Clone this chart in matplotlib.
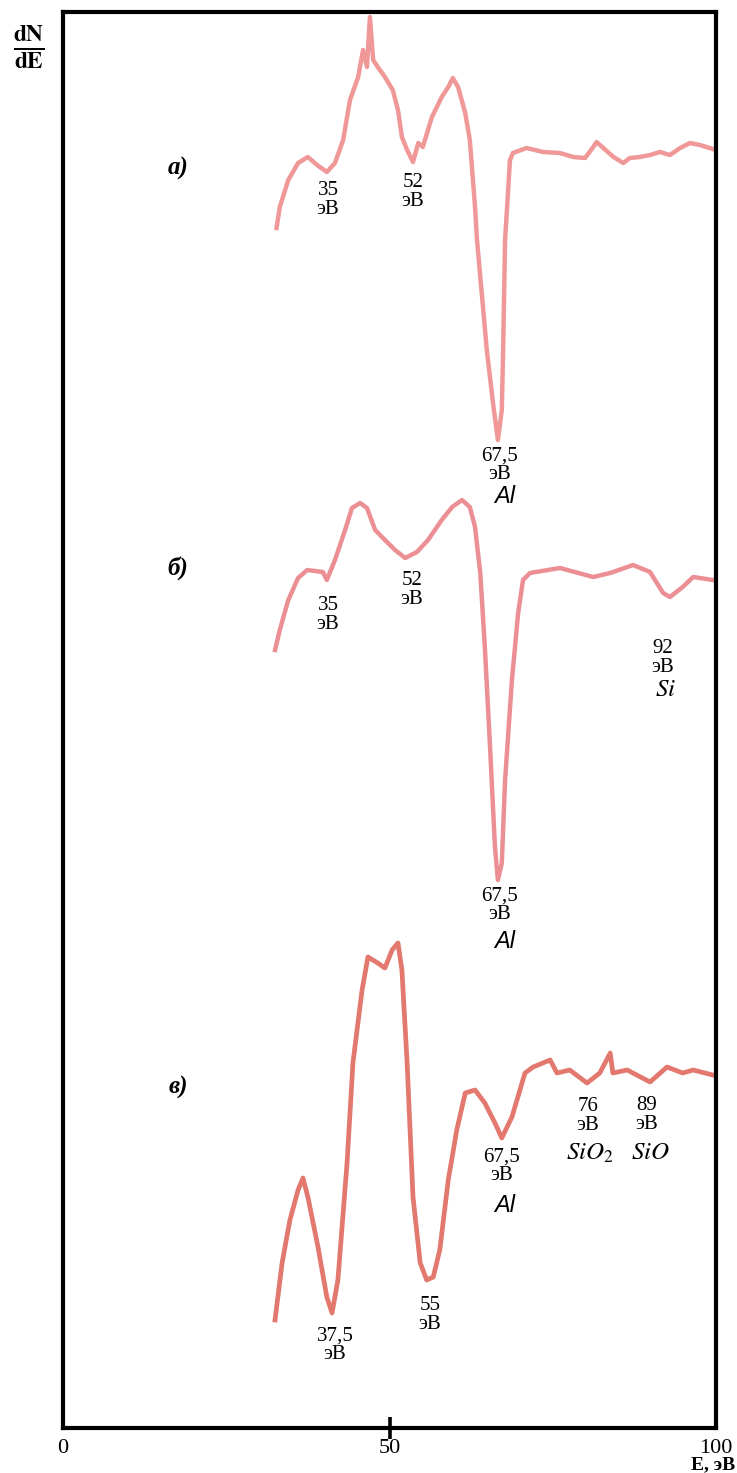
import matplotlib.pyplot as plt

plt.rcParams['font.family'] = ['Liberation Serif', 'DejaVu Serif']
plt.rcParams['mathtext.fontset'] = 'stix'

# energy, eV  /  dN/dE, arbitrary units
e_a = [32.7, 33.2, 34.5, 36.0, 37.5, 38.9, 40.4, 41.65, 42.9, 43.95, 45.2, 45.95,
       46.55, 47.0, 47.5, 48.2, 49.3, 50.5, 51.3, 51.9, 52.7, 53.6, 54.4, 55.1,
       56.5, 58.0, 59.0, 59.7, 60.5, 61.6, 62.3, 63.1, 63.4, 64.9, 65.85, 66.6,
       67.2, 67.4, 67.7, 68.45, 68.9, 71.0, 73.55, 76.1, 78.15, 79.95, 81.2, 81.7,
       82.75, 84.3, 85.8, 86.8, 88.35, 89.9, 91.4, 92.95, 94.5, 96.0, 97.55, 99.5]
s_a = [1200, 1221, 1248, 1265, 1271, 1263, 1256, 1265, 1288, 1328, 1351, 1378,
       1361, 1411, 1368, 1361, 1351, 1338, 1318, 1291, 1278, 1266, 1285, 1281,
       1311, 1331, 1341, 1350, 1341, 1315, 1288, 1221, 1188, 1078, 1025, 988,
       1018, 1078, 1188, 1268, 1275, 1280, 1276, 1275, 1271, 1270, 1281, 1286,
       1280, 1271, 1265, 1270, 1271, 1273, 1276, 1273, 1280, 1285, 1283, 1279]

e_b = [32.47, 33.2, 34.5, 36.0, 37.4, 39.8, 40.4, 41.65, 43.2, 44.25, 45.5, 46.55,
       47.8, 49.3, 50.85, 52.4, 54.2, 55.9, 58.0, 59.6, 61.1, 62.3, 63.1, 63.9,
       64.6, 65.4, 66.15, 66.6, 67.2, 67.7, 68.75, 69.7, 70.45, 71.5, 76.1, 81.2,
       83.8, 87.3, 89.9, 91.9, 92.95, 94.9, 96.5, 99.5]
s_b = [778, 798, 828, 850, 858, 856, 848, 868, 898, 920, 925, 920,
       898, 888, 878, 870, 876, 888, 908, 921, 928, 921, 901, 855,
       781, 681, 581, 548, 565, 648, 748, 815, 848, 855, 860, 851,
       855, 863, 856, 835, 831, 841, 851, 848]

e_c = [32.47, 33.55, 34.75, 36.0, 36.75, 37.5, 39.05, 40.4, 41.2, 42.1, 43.5, 44.4,
       45.8, 46.7, 48.2, 49.3, 50.4, 51.3, 51.9, 52.7, 53.6, 54.7, 55.7, 56.7,
       57.7, 59.0, 60.3, 61.6, 63.1, 64.6, 66.15, 67.2, 68.75, 70.75, 72.0, 74.6,
       75.65, 77.6, 80.25, 82.2, 83.8, 84.2, 86.4, 89.9, 92.5, 94.9, 96.5, 99.5]
s_c = [108, 165, 208, 238, 250, 231, 181, 131, 115, 148, 265, 365,
       438, 471, 465, 460, 478, 485, 458, 365, 231, 165, 148, 151,
       178, 248, 298, 335, 338, 325, 305, 290, 311, 355, 361, 368,
       355, 358, 345, 355, 375, 355, 358, 346, 361, 355, 358, 353]

x_ticks = [0, 50, 100]

# (x, y, text) for the peak labels
peak_labels = [
    (40.6, 1228, '35\nэВ'), (53.6, 1236, '52\nэВ'), (66.9, 963, '67,5\nэВ'),
    (40.6, 813, '35\nэВ'), (53.45, 838, '52\nэВ'), (66.9, 523, '67,5\nэВ'),
    (91.9, 770, '92\nэВ'),
    (67.2, 262, '67,5\nэВ'), (80.4, 312, '76\nэВ'), (89.4, 313, '89\nэВ'),
    (56.2, 113, '55\nэВ'), (41.65, 83, '37,5\nэВ'),
]
al_labels = [(67.7, 931), (67.7, 486), (67.7, 223)]
serif_italic = [(92.2, 738, r'$\mathit{Si}$'), (80.7, 275, r'$\mathit{SiO}_{2}$'),
                (89.9, 275, r'$\mathit{SiO}$')]
panels = [(17.6, 1260, 'а)'), (17.6, 860, 'б)'), (17.6, 341, 'в)')]

fig = plt.figure(figsize=(7.37, 14.73), dpi=100)
ax = fig.add_axes([63 / 737, 45 / 1473, 653 / 737, 1416 / 1473])

ax.plot(e_a, s_a, color='#f09898', lw=3.2, solid_joinstyle='round')
ax.plot(e_b, s_b, color='#ec8f95', lw=3.2, solid_joinstyle='round')
ax.plot(e_c, s_c, color='#e3786f', lw=3.4, solid_joinstyle='round')

for x, y, txt in peak_labels:
    ax.text(x, y, txt, ha='center', va='center', fontsize=15,
            linespacing=0.95, multialignment='center')
for x, y in al_labels:
    ax.text(x, y, 'Al', ha='center', va='center', fontsize=17,
            family='Liberation Sans', style='italic')
for x, y, txt in serif_italic:
    ax.text(x, y, txt, ha='center', va='center', fontsize=18)
for x, y, txt in panels:
    ax.text(x, y, txt, ha='center', va='center', fontsize=18,
            weight='bold', style='italic')

ax.set_xlim(0, 100)
ax.set_ylim(0, 1416)
ax.set_yticks([])
ax.set_xticks(x_ticks)
ax.set_xticklabels([str(v) for v in x_ticks], fontsize=16)
ax.tick_params(axis='x', direction='inout', length=16, width=2.6, pad=0)
ticks = ax.xaxis.get_major_ticks()
ticks[0].tick1line.set_visible(False)
ticks[-1].tick1line.set_visible(False)
for sp in ax.spines.values():
    sp.set_linewidth(3)

fig.text(29 / 737, 1 - 47 / 1473, r'$\mathbf{\frac{dN}{dE}}$', ha='center',
         va='center', fontsize=24)
fig.text(735 / 737, 1 - 1465 / 1473, 'E, эВ', ha='right', va='center',
         fontsize=14, weight='bold')

fig.savefig('out.png', dpi=100)
